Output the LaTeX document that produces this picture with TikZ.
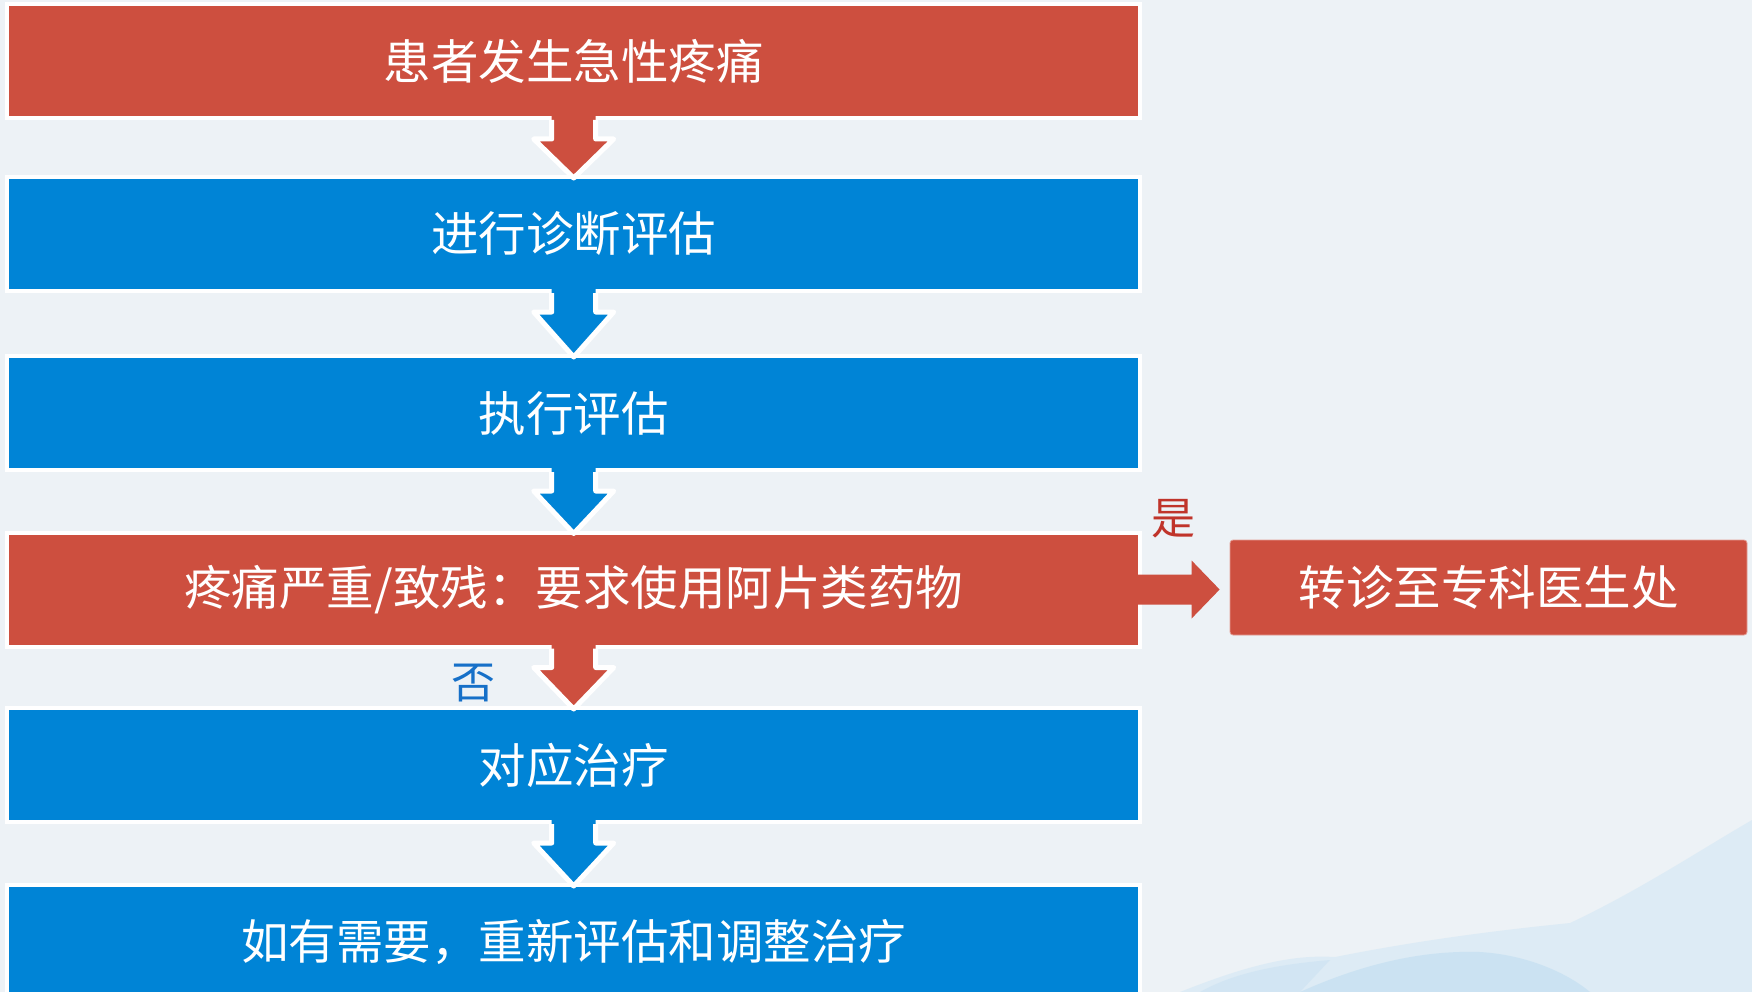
\documentclass[tikz,border=0pt]{standalone}
\usepackage{fontspec}
\newfontfamily\cjk{Noto Sans CJK SC}
\usetikzlibrary{calc}
\definecolor{boxred}{RGB}{205,79,63}
\definecolor{boxblue}{RGB}{0,132,214}
\definecolor{bgcol}{RGB}{237,242,246}
\definecolor{yesred}{RGB}{192,52,42}
\definecolor{noblue}{RGB}{22,112,200}
\definecolor{splashA}{RGB}{218,234,245}
\definecolor{splashB}{RGB}{186,218,240}
\newcommand\blockarrow[3]{%
  \fill[#3] let \p1=(#1.south), \p2=(#2.north) in
    (\x1-22pt,\y1+4pt) -- (\x1-22pt,\y1-19pt) -- (\x1-40pt,\y1-19pt) --
    (\x1,\y2-3pt) -- (\x1+40pt,\y1-19pt) -- (\x1+22pt,\y1-19pt) --
    (\x1+22pt,\y1+4pt) -- cycle;
  \draw[white, line width=5pt, line join=round] let \p1=(#1.south), \p2=(#2.north) in
    (\x1-22pt,\y1) -- (\x1-22pt,\y1-19pt) -- (\x1-40pt,\y1-19pt) --
    (\x1,\y2-3pt) -- (\x1+40pt,\y1-19pt) -- (\x1+22pt,\y1-19pt) --
    (\x1+22pt,\y1);
}
\begin{document}
\begin{tikzpicture}[x=1pt,y=-1pt,
  flow/.style={minimum width=1133pt, minimum height=114pt, inner sep=0pt,
    draw=white, line width=4pt, text=white,
    font=\cjk\fontsize{47.5}{52}\selectfont},
  redbox/.style={flow, fill=boxred},
  bluebox/.style={flow, fill=boxblue},
  sidebox/.style={minimum width=517pt, minimum height=95pt, inner sep=0pt,
    fill=boxred, draw=boxred!55!white, line width=0.8pt, rounded corners=3pt,
    text=white, font=\cjk\fontsize{47.5}{52}\selectfont},
  lbl/.style={inner sep=0pt, font=\cjk\fontsize{44}{48}\selectfont}]
\useasboundingbox (0,0) rectangle (1752,992);
\fill[bgcol] (0,0) rectangle (1752,992);
% decorative splash bottom right
\fill[splashA, opacity=0.8] (1180,992) .. controls (1260,960) and (1300,955) .. (1335,957)
  .. controls (1420,940) and (1500,930) .. (1570,923)
  .. controls (1640,890) and (1700,850) .. (1752,820) -- (1752,992) -- cycle;
\fill[splashB, opacity=0.5] (1300,992) .. controls (1360,965) and (1420,950) .. (1480,952)
  .. controls (1530,955) and (1570,975) .. (1590,992) -- cycle;
\fill[splashB, opacity=0.3] (1200,992) .. controls (1230,975) and (1270,965) .. (1330,960)
  -- (1300,992) -- cycle;

\node[redbox]  (b1) at (573.7,61)    {患者发生急性疼痛};
\node[bluebox] (b2) at (573.7,234)   {进行诊断评估};
\node[bluebox] (b3) at (573.7,413)   {执行评估};
\node[redbox]  (b4) at (573.7,589.5) {疼痛严重/致残：要求使用阿片类药物};
\node[bluebox] (b5) at (573.7,765)   {对应治疗};
\node[bluebox] (b6) at (573.7,942)   {如有需要，重新评估和调整治疗};
\node[sidebox] (r)  at (1488.5,587.5) {转诊至专科医生处};

\blockarrow{b1}{b2}{boxred}
\blockarrow{b2}{b3}{boxblue}
\blockarrow{b3}{b4}{boxblue}
\blockarrow{b4}{b5}{boxred}
\blockarrow{b5}{b6}{boxblue}

\fill[boxred] let \p1=(b4.east), \p2=(r.west) in
  (\x1-4pt,\y1+15pt) -- (\x2-38pt,\y1+15pt) -- (\x2-38pt,\y1+29pt) --
  (\x2-10pt,\y1) -- (\x2-38pt,\y1-29pt) -- (\x2-38pt,\y1-15pt) --
  (\x1-4pt,\y1-15pt) -- cycle;

\node[lbl, text=yesred] (yes) at (1173,519) {是};
\node[lbl, text=noblue] (no)  at (473,683)  {否};
\end{tikzpicture}
\end{document}
